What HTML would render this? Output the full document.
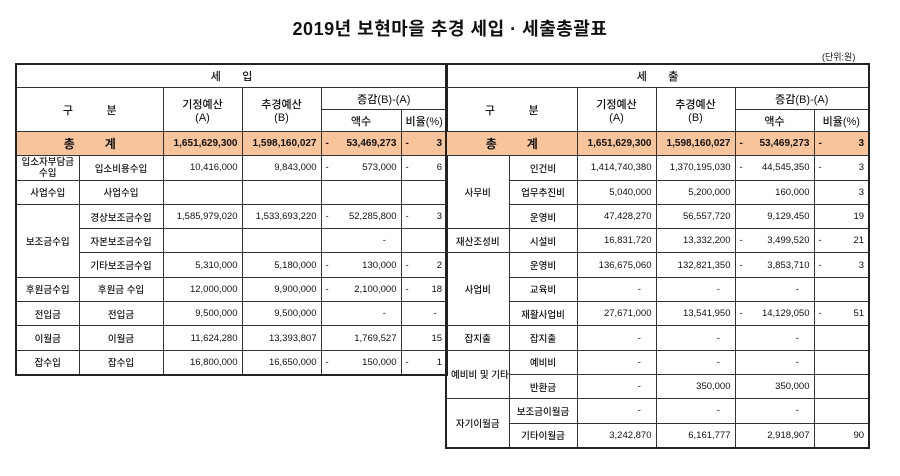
<!DOCTYPE html>
<html><head><meta charset="utf-8"><style>
body{margin:0;width:900px;height:476px;background:#fff;font-family:"Liberation Sans","Noto Sans CJK KR",sans-serif;color:#111;position:relative;overflow:hidden}
.title{position:absolute;left:0;width:900px;top:15px;text-align:center;font-size:18px;font-weight:bold;letter-spacing:0.5px}
.unit{position:absolute;left:822px;top:50px;font-size:9px}
table{position:absolute;border-collapse:collapse;table-layout:fixed;font-size:9.5px;border:2px solid #222}
td{border:1px solid #333;padding:0 4px;text-align:center;white-space:nowrap;overflow:hidden;font-weight:500}
td.n{text-align:right}
td.h{font-size:11px}
.o td{background:#f8c49c;font-weight:bold;font-size:10px}
.d{float:left}
tr.r td{height:23.3px}
</style></head><body>
<div class="title">2019년 보현마을 추경 세입 · 세출총괄표</div>
<div class="unit">(단위:원)</div>

<table style="left:15px;top:63px;width:431px">
<colgroup><col style="width:63px"><col style="width:84px"><col style="width:79px"><col style="width:79px"><col style="width:80px"><col style="width:46px"></colgroup>
<tr><td colspan="6" class="h" style="height:22px">세 &nbsp; &nbsp; &nbsp; 입</td></tr>
<tr><td colspan="2" rowspan="2" class="h">구 &nbsp; &nbsp; &nbsp; &nbsp; &nbsp; 분</td><td rowspan="2" class="h">기정예산<br>(A)</td><td rowspan="2" class="h">추경예산<br>(B)</td><td colspan="2" class="h" style="height:21px">증감(B)-(A)</td></tr>
<tr><td class="h" style="height:21px">액수</td><td class="h">비율(%)</td></tr>
<tr class="o r"><td colspan="2" style="font-size:12px">총 &nbsp; &nbsp; &nbsp; &nbsp; 계</td><td class="n">1,651,629,300</td><td class="n">1,598,160,027</td><td class="n"><span class="d">-</span>53,469,273</td><td class="n"><span class="d">-</span>3</td></tr>
<tr class="r"><td style="line-height:11px">입소자부담금<br>수입</td><td>입소비용수입</td><td class="n">10,416,000</td><td class="n">9,843,000</td><td class="n"><span class="d">-</span>573,000</td><td class="n"><span class="d">-</span>6</td></tr>
<tr class="r"><td>사업수입</td><td>사업수입</td><td></td><td></td><td></td><td></td></tr>
<tr class="r"><td rowspan="3">보조금수입</td><td>경상보조금수입</td><td class="n">1,585,979,020</td><td class="n">1,533,693,220</td><td class="n"><span class="d">-</span>52,285,800</td><td class="n"><span class="d">-</span>3</td></tr>
<tr class="r"><td>자본보조금수입</td><td></td><td></td><td class="n">- &nbsp; &nbsp; </td><td></td></tr>
<tr class="r"><td>기타보조금수입</td><td class="n">5,310,000</td><td class="n">5,180,000</td><td class="n"><span class="d">-</span>130,000</td><td class="n"><span class="d">-</span>2</td></tr>
<tr class="r"><td>후원금수입</td><td>후원금 수입</td><td class="n">12,000,000</td><td class="n">9,900,000</td><td class="n"><span class="d">-</span>2,100,000</td><td class="n"><span class="d">-</span>18</td></tr>
<tr class="r"><td>전입금</td><td>전입금</td><td class="n">9,500,000</td><td class="n">9,500,000</td><td class="n">- &nbsp; &nbsp; </td><td class="n">- &nbsp; </td></tr>
<tr class="r"><td>이월금</td><td>이월금</td><td class="n">11,624,280</td><td class="n">13,393,807</td><td class="n">1,769,527</td><td class="n">15</td></tr>
<tr class="r"><td>잡수입</td><td>잡수입</td><td class="n">16,800,000</td><td class="n">16,650,000</td><td class="n"><span class="d">-</span>150,000</td><td class="n"><span class="d">-</span>1</td></tr>
</table>

<table style="left:445px;top:63px;width:423px">
<colgroup><col style="width:63px"><col style="width:68px"><col style="width:79px"><col style="width:79px"><col style="width:79px"><col style="width:55px"></colgroup>
<tr><td colspan="6" class="h" style="height:22px">세 &nbsp; &nbsp; &nbsp; 출</td></tr>
<tr><td colspan="2" rowspan="2" class="h">구 &nbsp; &nbsp; &nbsp; &nbsp; &nbsp; 분</td><td rowspan="2" class="h">기정예산<br>(A)</td><td rowspan="2" class="h">추경예산<br>(B)</td><td colspan="2" class="h" style="height:21px">증감(B)-(A)</td></tr>
<tr><td class="h" style="height:21px">액수</td><td class="h">비율(%)</td></tr>
<tr class="o r"><td colspan="2" style="font-size:12px">총 &nbsp; &nbsp; &nbsp; &nbsp; 계</td><td class="n">1,651,629,300</td><td class="n">1,598,160,027</td><td class="n"><span class="d">-</span>53,469,273</td><td class="n"><span class="d">-</span>3</td></tr>
<tr class="r"><td rowspan="3">사무비</td><td>인건비</td><td class="n">1,414,740,380</td><td class="n">1,370,195,030</td><td class="n"><span class="d">-</span>44,545,350</td><td class="n"><span class="d">-</span>3</td></tr>
<tr class="r"><td>업무추진비</td><td class="n">5,040,000</td><td class="n">5,200,000</td><td class="n">160,000</td><td class="n">3</td></tr>
<tr class="r"><td>운영비</td><td class="n">47,428,270</td><td class="n">56,557,720</td><td class="n">9,129,450</td><td class="n">19</td></tr>
<tr class="r"><td>재산조성비</td><td>시설비</td><td class="n">16,831,720</td><td class="n">13,332,200</td><td class="n"><span class="d">-</span>3,499,520</td><td class="n"><span class="d">-</span>21</td></tr>
<tr class="r"><td rowspan="3">사업비</td><td>운영비</td><td class="n">136,675,060</td><td class="n">132,821,350</td><td class="n"><span class="d">-</span>3,853,710</td><td class="n"><span class="d">-</span>3</td></tr>
<tr class="r"><td>교육비</td><td class="n">- &nbsp; &nbsp; </td><td class="n">- &nbsp; &nbsp; </td><td class="n">- &nbsp; &nbsp; </td><td></td></tr>
<tr class="r"><td>재활사업비</td><td class="n">27,671,000</td><td class="n">13,541,950</td><td class="n"><span class="d">-</span>14,129,050</td><td class="n"><span class="d">-</span>51</td></tr>
<tr class="r"><td>잡지출</td><td>잡지출</td><td class="n">- &nbsp; &nbsp; </td><td class="n">- &nbsp; &nbsp; </td><td class="n">- &nbsp; &nbsp; </td><td></td></tr>
<tr class="r"><td rowspan="2">예비비 및 기타</td><td>예비비</td><td class="n">- &nbsp; &nbsp; </td><td class="n">- &nbsp; &nbsp; </td><td class="n">- &nbsp; &nbsp; </td><td></td></tr>
<tr class="r"><td>반환금</td><td class="n">- &nbsp; &nbsp; </td><td class="n">350,000</td><td class="n">350,000</td><td></td></tr>
<tr class="r"><td rowspan="2">자기이월금</td><td>보조금이월금</td><td class="n">- &nbsp; &nbsp; </td><td class="n">- &nbsp; &nbsp; </td><td class="n">- &nbsp; &nbsp; </td><td></td></tr>
<tr class="r"><td>기타이월금</td><td class="n">3,242,870</td><td class="n">6,161,777</td><td class="n">2,918,907</td><td class="n">90</td></tr>
</table>
</body></html>
